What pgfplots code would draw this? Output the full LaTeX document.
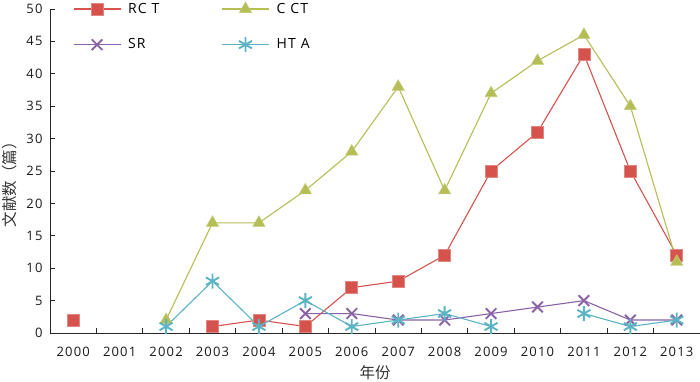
\documentclass[border=0pt]{standalone}
\usepackage{fontspec}
\setmainfont{Open Sans}[LetterSpace=9.0]
\newfontfamily\cjk{Noto Sans CJK SC}
\usepackage{pgfplots}
\pgfplotsset{compat=1.18}
\definecolor{cR}{HTML}{D5524D}
\definecolor{cG}{HTML}{B5BE55}
\definecolor{cP}{HTML}{8A63A6}
\definecolor{cC}{HTML}{5AB4C4}
\begin{document}
\begin{tikzpicture}
\useasboundingbox (-50pt,-49pt) rectangle (650pt,333pt);
\begin{axis}[
  scale only axis, width=650pt, height=324pt,
  xmin=1999.5, xmax=2013.5, ymin=0, ymax=50,
  axis x line*=bottom, axis y line*=left,
  axis line style={black!85, line width=0.9pt},
  xtick={2000,...,2013},
  xticklabels={2000,2001,2002,2003,2004,2005,2006,2007,2008,2009,2010,2011,2012,2013},
  major x tick style={draw=none},
  minor xtick={1999.5,2000.5,...,2013.5},
  ytick={0,5,...,50},
  tick align=inside,
  major tick length=5pt, minor tick length=5pt,
  tick style={black!85, line width=0.9pt},
  /pgf/number format/assume math mode=true,
  tick label style={font=\fontsize{13}{15}\selectfont, text=black!90},
  xticklabel style={anchor=center, yshift=-19pt},
  yticklabel style={anchor=east, xshift=-4pt},
  unbounded coords=jump,
  xlabel={\cjk 年份},
  xlabel style={at={(axis description cs:0.5,0)}, anchor=center, yshift=-40pt, font=\fontsize{15.5}{17}\selectfont, text=black!80},
  ylabel={\cjk 文献数（篇）},
  ylabel style={at={(axis description cs:-0.0615,0.47)}, anchor=center, font=\fontsize{15.5}{17}\selectfont, text=black!80},
  legend image code/.code={\draw[mark repeat=2,mark phase=2,#1] plot coordinates {(0pt,0pt)(23.5pt,0pt)(47pt,0pt)}; \path (52pt,0pt);},
  legend columns=2,
  legend cell align=left,
  legend style={draw=none, fill=none, at={(axis description cs:0.035,1)}, anchor=north west, yshift=8pt, inner sep=0pt, row sep=20pt, font=\fontsize{14}{16}\selectfont, /tikz/every even column/.append style={column sep=60pt}},
]
\addplot[cR, line width=1.1pt, mark=square*, mark size=6pt, mark options={fill=cR, draw=cR!70!white, line width=0.8pt}] coordinates {
(2000,2) (2001,nan) (2003,1) (2004,2) (2005,1) (2006,7) (2007,8) (2008,12) (2009,25) (2010,31) (2011,43) (2012,25) (2013,12)};
\addlegendentry{RC T}
\addplot[cG, line width=1.1pt, mark=triangle*, mark size=7pt, mark options={fill=cG, draw=cG!80!white, line width=0.6pt}] coordinates {
(2002,2) (2003,17) (2004,17) (2005,22) (2006,28) (2007,38) (2008,22) (2009,37) (2010,42) (2011,46) (2012,35) (2013,11)};
\addlegendentry{C CT}
\addplot[cP, line width=1.1pt, mark=x, mark size=7.5pt, mark options={line width=1.9pt}] coordinates {
(2005,3) (2006,3) (2007,2) (2008,2) (2009,3) (2010,4) (2011,5) (2012,2) (2013,2)};
\addlegendentry{SR}
\addplot[cC, line width=1.1pt, mark=asterisk, mark size=7.5pt, mark options={line width=1.9pt}] coordinates {
(2002,1) (2003,8) (2004,1) (2005,5) (2006,1) (2007,2) (2008,3) (2009,1) (2010,nan) (2011,3) (2012,1) (2013,2)};
\addlegendentry{HT A}
\end{axis}
\end{tikzpicture}
\end{document}
